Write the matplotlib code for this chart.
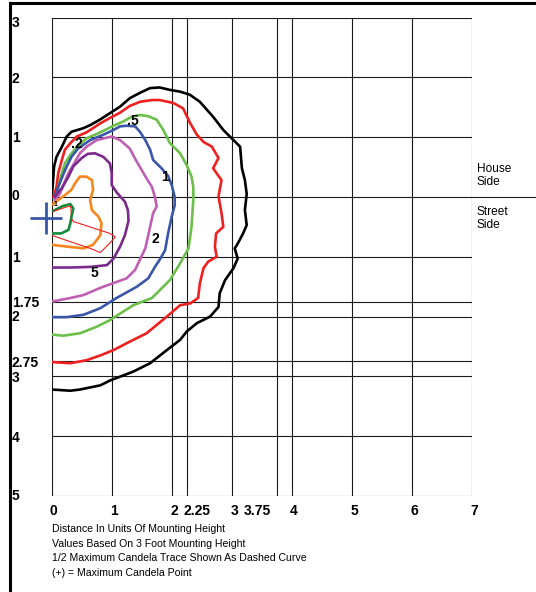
import matplotlib.pyplot as plt
from matplotlib.lines import Line2D

# grid positions (units of mounting height)
grid_x = [0, 1, 2, 2.25, 3, 3.75, 4, 5, 6, 7]
grid_y_house = [1, 2, 3]
grid_y_street = [1, 1.75, 2, 2.75, 3, 4, 5]

x_tick_labels = ['0', '1', '2', '2.25', '3', '3.75', '4', '5', '6', '7']
x_tick_pos = [0.03, 1.04, 2.05, 2.42, 3.04, 3.42, 4.04, 5.04, 6.04, 7.04]
y_tick_labels = ['3', '2', '1', '0', '1', '1.75', '2', '2.75', '3', '4', '5']
y_tick_pos = [2.9, 1.98, 0.98, 0.02, -1.02, -1.77, -2.01, -2.77, -3.02, -4.03, -5.0]

notes = ['Distance In Units Of Mounting Height',
         'Values Based On 3 Foot Mounting Height',
         '1/2 Maximum Candela Trace Shown As Dashed Curve',
         '(+) = Maximum Candela Point']

# iso-footcandle traces (street side negative)
black_x = [0, 0.31, 0.47, 0.81, 0.97, 1.36, 1.64, 1.92, 2.14, 2.25, 2.42, 2.64, 2.78, 2.80, 2.89,
           3.03, 3.10, 3.05, 3.09, 3.19, 3.25, 3.22, 3.25, 3.22, 3.17, 3.14, 3.06, 2.97, 2.86, 2.69,
           2.47, 2.30, 2.14, 1.97, 1.80, 1.64, 1.47, 1.30, 1.14, 0.97, 0.80, 0.64, 0.53, 0.33, 0.25,
           0.17, 0.08, 0.04, 0.02, 0.0]
black_y = [-3.22, -3.24, -3.22, -3.15, -3.07, -2.92, -2.78, -2.56, -2.39, -2.25, -2.11, -2.00, -1.84,
           -1.61, -1.39, -1.19, -1.03, -0.86, -0.80, -0.61, -0.47, -0.22, 0.05, 0.28, 0.48, 0.84,
           0.92, 1.01, 1.12, 1.34, 1.59, 1.71, 1.76, 1.79, 1.83, 1.82, 1.74, 1.65, 1.51, 1.40, 1.29,
           1.20, 1.15, 1.09, 1.01, 0.84, 0.67, 0.51, 0.23, 0.0]

red_x = [0, 0.31, 0.58, 0.81, 1.03, 1.30, 1.58, 1.92, 2.14, 2.31, 2.44, 2.47, 2.53, 2.61, 2.75, 2.72,
         2.74, 2.86, 2.83, 2.78, 2.83, 2.69, 2.78, 2.67, 2.53, 2.42, 2.31, 2.19, 2.03, 1.80, 1.67,
         1.47, 1.30, 1.14, 0.97, 0.81, 0.58, 0.42, 0.33, 0.22, 0.17, 0.11, 0.08, 0.03]
red_y = [-2.76, -2.78, -2.73, -2.65, -2.56, -2.42, -2.28, -2.00, -1.81, -1.78, -1.69, -1.44, -1.19,
         -1.08, -1.00, -0.83, -0.61, -0.50, -0.27, 0.01, 0.28, 0.48, 0.65, 0.84, 0.92, 1.04, 1.23,
         1.48, 1.57, 1.62, 1.62, 1.59, 1.52, 1.41, 1.32, 1.23, 1.08, 1.01, 0.92, 0.79, 0.62, 0.40,
         0.17, 0.0]

green_x = [0, 0.19, 0.47, 0.75, 0.97, 1.14, 1.36, 1.67, 1.97, 2.14, 2.28, 2.33, 2.36, 2.36, 2.33,
           2.25, 2.14, 1.97, 1.86, 1.75, 1.61, 1.47, 1.33, 1.19, 1.03, 0.81, 0.58, 0.42, 0.31, 0.22,
           0.17, 0.11, 0.06]
green_y = [-2.30, -2.32, -2.28, -2.17, -2.06, -1.95, -1.81, -1.69, -1.39, -1.11, -0.86, -0.50, -0.05,
           0.17, 0.34, 0.53, 0.73, 0.90, 1.12, 1.29, 1.35, 1.37, 1.34, 1.26, 1.19, 1.08, 0.98, 0.84,
           0.70, 0.56, 0.40, 0.17, 0.0]

blue_x = [0, 0.25, 0.53, 0.81, 1.08, 1.42, 1.61, 1.72, 1.80, 1.89, 1.94, 2.00, 2.05, 2.05, 2.0, 1.94,
          1.83, 1.69, 1.64, 1.56, 1.47, 1.39, 1.25, 1.14, 1.03, 0.86, 0.64, 0.44, 0.33, 0.25, 0.19,
          0.11, 0.06]
blue_y = [-2.01, -2.01, -1.97, -1.86, -1.69, -1.50, -1.36, -1.17, -1.05, -0.89, -0.61, -0.33, -0.14,
          0.0, 0.20, 0.35, 0.48, 0.62, 0.79, 0.95, 1.09, 1.18, 1.19, 1.18, 1.12, 1.04, 0.95, 0.81,
          0.67, 0.51, 0.37, 0.17, 0.03]

pink_x = [0, 0.31, 0.53, 0.81, 1.03, 1.25, 1.39, 1.47, 1.56, 1.64, 1.69, 1.75, 1.72, 1.67, 1.58,
          1.50, 1.40, 1.30, 1.14, 1.0, 0.75, 0.58, 0.47, 0.39, 0.28, 0.22, 0.14, 0.05]
pink_y = [-1.75, -1.69, -1.64, -1.52, -1.44, -1.36, -1.22, -1.05, -0.86, -0.50, -0.27, -0.16, 0.0,
          0.17, 0.31, 0.45, 0.62, 0.81, 0.95, 1.01, 0.95, 0.84, 0.73, 0.59, 0.40, 0.26, 0.06, -0.05]

purple_x = [0, 0.31, 0.64, 0.92, 1.03, 1.14, 1.22, 1.28, 1.27, 1.22, 1.08, 1.0, 1.0, 0.97, 0.86,
            0.72, 0.60, 0.50, 0.36, 0.28, 0.17, 0.05]
purple_y = [-1.18, -1.18, -1.17, -1.14, -1.03, -0.83, -0.64, -0.40, -0.22, -0.08, 0.08, 0.2, 0.40,
            0.56, 0.67, 0.73, 0.72, 0.65, 0.51, 0.34, 0.15, 0.0]

orange_x = [0, 0.25, 0.53, 0.69, 0.81, 0.83, 0.78, 0.67, 0.64, 0.69, 0.67, 0.58, 0.47, 0.39, 0.33,
            0.22, 0.11, 0.02]
orange_y = [-0.80, -0.83, -0.86, -0.80, -0.64, -0.44, -0.33, -0.22, -0.05, 0.12, 0.28, 0.34, 0.34,
            0.23, 0.12, 0.03, -0.05, -0.12]

dkgreen_x = [0, 0.16, 0.28, 0.31, 0.33, 0.36, 0.31, 0.19, 0.03]
dkgreen_y = [-0.61, -0.61, -0.55, -0.44, -0.33, -0.19, -0.12, -0.15, -0.23]

half_x = [0, 0.14, 0.64, 0.81, 0.97, 1.06, 0.97, 0.36, 0.33, 0.32, 0.30, 0.03]
half_y = [-0.64, -0.69, -0.86, -0.93, -0.77, -0.67, -0.61, -0.41, -0.36, -0.18, -0.15, -0.24]

max_cd = (-0.1, -0.35)

curve_labels = ['.2', '.5', '1', '2', '5', '.1']
label_x = [0.42, 1.35, 1.88, 1.72, 0.71, 0.06]
label_y = [0.88, 1.27, 0.34, -0.71, -1.28, -0.12]
label_size = [10, 10, 10, 10, 10, 5]

plt.rcParams['font.family'] = ['Liberation Sans', 'DejaVu Sans']

fig = plt.figure(figsize=(5.36, 5.92), dpi=100)
ax = fig.add_axes([51.7 / 536, 96 / 592, 420 / 536, 478.5 / 592])
ax.set_xlim(0, 7)
ax.set_ylim(-5, 3)
ax.axis('off')

gcol = '#1a1a1a'
for gx in grid_x:
    ax.plot([gx, gx], [-5, 3], color=gcol, lw=0.8, zorder=1)
for gy in grid_y_house:
    ax.plot([0, 7], [gy, gy], color=gcol, lw=0.8, zorder=1)
for gy in grid_y_street:
    ax.plot([0, 7], [-gy, -gy], color=gcol, lw=0.8, zorder=1)
ax.plot([0, 8.2], [0, 0], color=gcol, lw=0.8, zorder=1, clip_on=False)

lw = 1.9
ax.plot(black_x, black_y, color='black', lw=lw, zorder=3)
ax.plot(red_x, red_y, color='#ee2020', lw=lw, zorder=3)
ax.plot(green_x, green_y, color='#6cc04a', lw=lw, zorder=3)
ax.plot(blue_x, blue_y, color='#3a56a8', lw=lw, zorder=3)
ax.plot(pink_x, pink_y, color='#c060b4', lw=lw, zorder=3)
ax.plot(purple_x, purple_y, color='#7b2a8c', lw=lw, zorder=3)
ax.plot(orange_x, orange_y, color='#f7861e', lw=lw, zorder=3)
ax.plot(dkgreen_x, dkgreen_y, color='#138a3a', lw=lw, zorder=3)
ax.plot(half_x, half_y, color='#ee2020', lw=0.8, zorder=3)

ax.plot([max_cd[0]], [max_cd[1]], marker='+', color='#3a56a8', markersize=23,
        markeredgewidth=2.0, clip_on=False, zorder=4)

for t, lx, ly, fs in zip(curve_labels, label_x, label_y, label_size):
    ax.text(lx, ly, t, fontsize=fs, fontweight='bold', ha='center', va='center', zorder=5)

for t, tx in zip(x_tick_labels, x_tick_pos):
    ax.text(tx, -5.25, t, fontsize=10, fontweight='bold', ha='center', va='center')
for t, ty in zip(y_tick_labels, y_tick_pos):
    ax.text(-0.665, ty, t, fontsize=10, fontweight='bold', ha='left', va='center')

for i, t in enumerate(notes):
    ax.text(0, -5.55 - 0.245 * i, t, fontsize=7.6, ha='left', va='center')

ax.text(7.08, 0.36, 'House\nSide', fontsize=8.6, ha='left', va='center', linespacing=1.2)
ax.text(7.08, -0.36, 'Street\nSide', fontsize=8.6, ha='left', va='center', linespacing=1.2)

# partial frame (left and top edges)
fig.add_artist(Line2D([10 / 536, 10 / 536], [0, 589 / 592], color='black', lw=2.2))
fig.add_artist(Line2D([10 / 536, 1], [589 / 592, 589 / 592], color='black', lw=2.2))

fig.savefig('out.png', dpi=100)
